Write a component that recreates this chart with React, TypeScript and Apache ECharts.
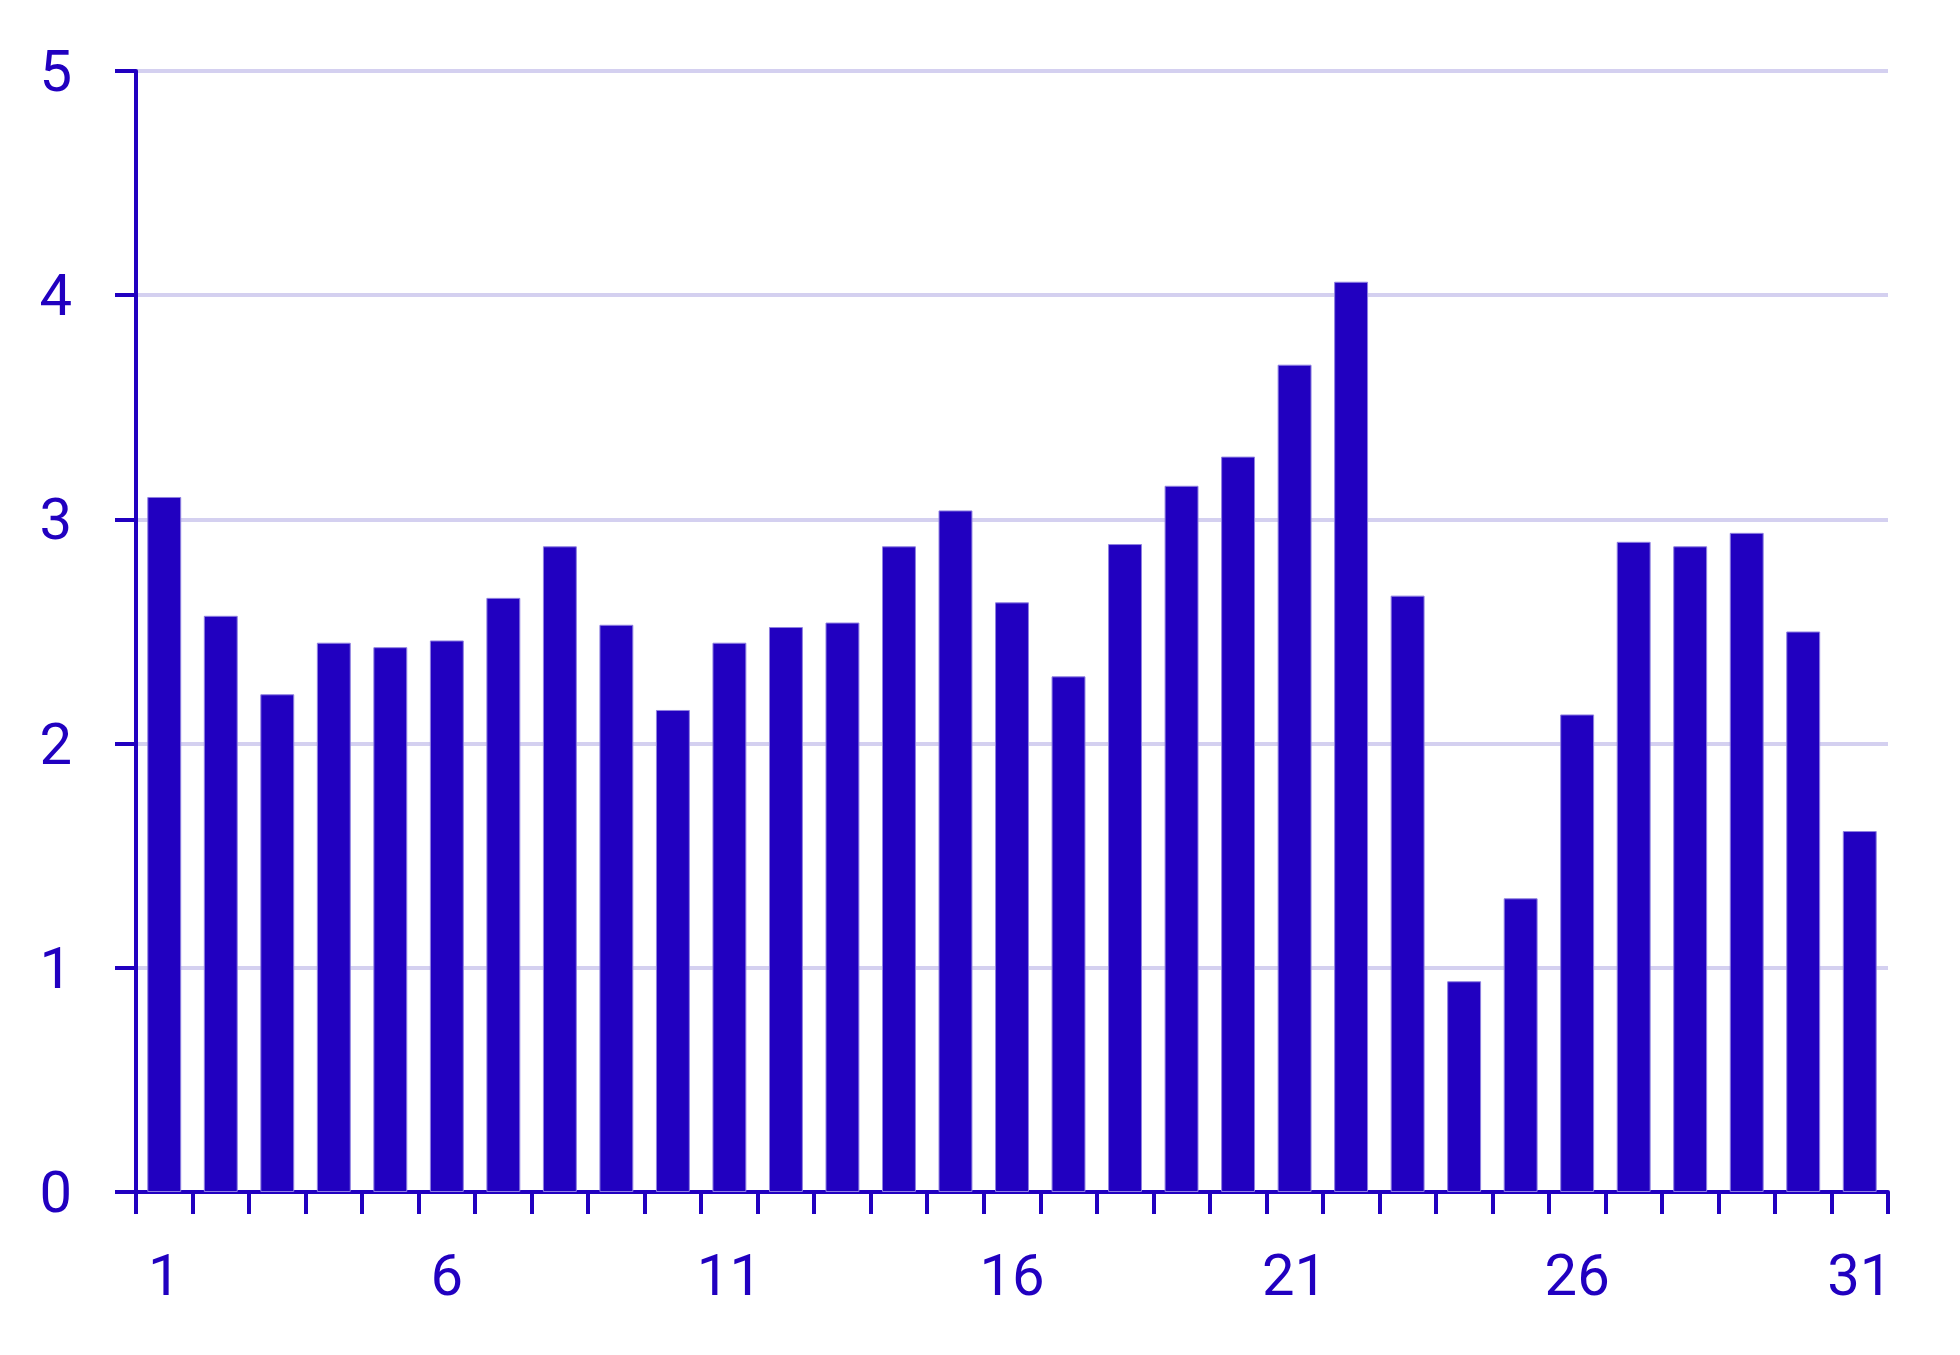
import React, { useEffect, useRef } from "react";
import * as echarts from "echarts";

const categories: string[] = Array.from({ length: 31 }, (_, i) => String(i + 1));
const values: number[] = [
  3.1, 2.57, 2.22, 2.45, 2.43, 2.46, 2.65, 2.88, 2.53, 2.15,
  2.45, 2.52, 2.54, 2.88, 3.04, 2.63, 2.3, 2.89, 3.15, 3.28,
  3.69, 4.06, 2.66, 0.94, 1.31, 2.13, 2.9, 2.88, 2.94, 2.5, 1.61,
];
const yTicks = { min: 0, max: 5, interval: 1 };

const MAIN = "#2100C0";

export default function App() {
  const ref = useRef<HTMLDivElement>(null);
  useEffect(() => {
    if (!ref.current) return;
    const chart = echarts.init(ref.current, null, { renderer: "svg" });
    chart.setOption({
      animation: false,
      backgroundColor: "#ffffff",
      grid: { left: 136, right: 72, top: 71, bottom: 163, containLabel: false },
      xAxis: {
        type: "category",
        data: categories,
        boundaryGap: true,
        axisLine: { show: true, lineStyle: { color: MAIN, width: 4 } },
        axisTick: { show: true, length: 22, lineStyle: { color: MAIN, width: 4 }, interval: 0 },
        axisLabel: {
          interval: 4,
          color: MAIN,
          fontFamily: "Roboto",
          fontSize: 58,
          margin: 54,
        },
        splitLine: { show: false },
      },
      yAxis: {
        type: "value",
        min: yTicks.min,
        max: yTicks.max,
        interval: yTicks.interval,
        axisLine: { show: true, lineStyle: { color: MAIN, width: 4 } },
        axisTick: { show: true, length: 21, lineStyle: { color: MAIN, width: 4 } },
        axisLabel: {
          color: MAIN,
          fontFamily: "Roboto",
          fontSize: 58,
          margin: 64,
        },
        splitLine: { show: true, lineStyle: { color: "#D4D0F0", width: 4 } },
      },
      series: [
        {
          type: "bar",
          data: values,
          barCategoryGap: "40%",
          itemStyle: { color: MAIN, borderColor: "#8f80e0", borderWidth: 1 },
        },
      ],
    });
    return () => chart.dispose();
  }, []);
  return (
    <div
      ref={ref}
      style={{ position: "absolute", left: 0, top: 0, width: 1960, height: 1355 }}
    />
  );
}
